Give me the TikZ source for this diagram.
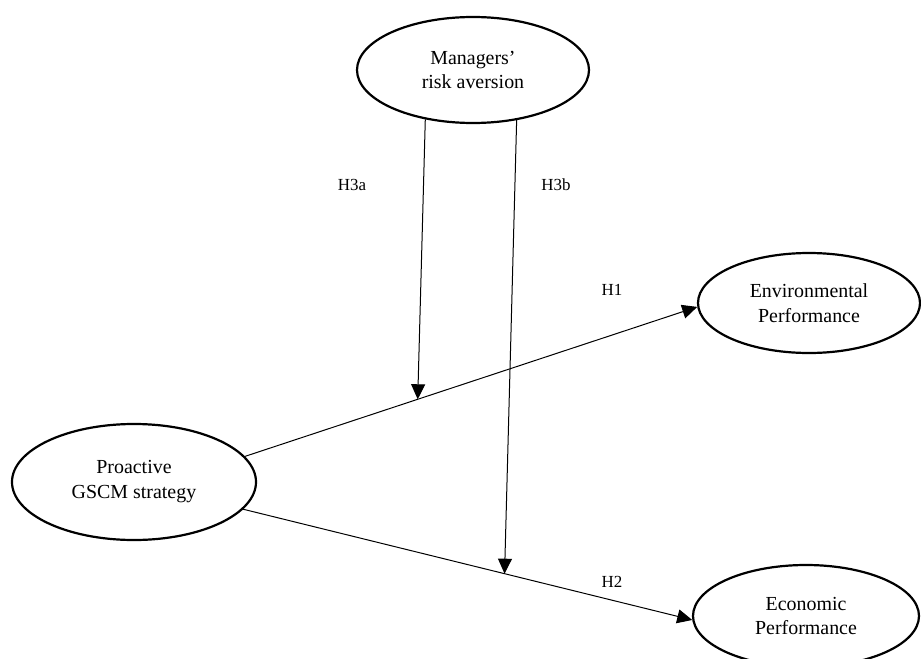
\documentclass[tikz,border=0pt]{standalone}
\usepackage{fontspec}
\setmainfont{Liberation Serif}
\usetikzlibrary{shapes.geometric,arrows.meta}
\begin{document}
\begin{tikzpicture}[x=1bp,y=-1bp,
    construct/.style={ellipse,draw,line width=2.2bp,inner sep=0pt,align=center,
      font=\fontsize{20}{25}\selectfont},
    hyp/.style={font=\fontsize{17}{20}\selectfont},
    link/.style={line width=1bp,-{Triangle[length=15bp,width=14bp]}}]
          \useasboundingbox (0,0) rectangle (921,659);
          \node[construct,minimum width=232bp,minimum height=106bp] (mra) at (473,70) {Managers'\\risk aversion};
          \node[construct,minimum width=244bp,minimum height=116bp] (pgs) at (134,482) {Proactive\\GSCM strategy};
          \node[construct,minimum width=222bp,minimum height=100bp] (env) at (809,303) {Environmental\\Performance};
          \node[construct,minimum width=226bp,minimum height=102bp] (eco) at (806,616) {Economic\\Performance};
          \draw[link] (pgs.13) -- (env.182) coordinate[pos=.382] (h3aend);
          \draw[link] (pgs.-14) -- (eco.182) coordinate[pos=.582] (h3bend);
          \draw[link] (mra.226) -- (h3aend);
          \draw[link] (mra.311) -- (h3bend);
          \node[hyp] (h3a) at (352,185) {H3a};
          \node[hyp] (h3b) at (556,185) {H3b};
          \node[hyp] (h1) at (612,290) {H1};
          \node[hyp] (h2) at (612,582) {H2};
        \end{tikzpicture}
\end{document}
